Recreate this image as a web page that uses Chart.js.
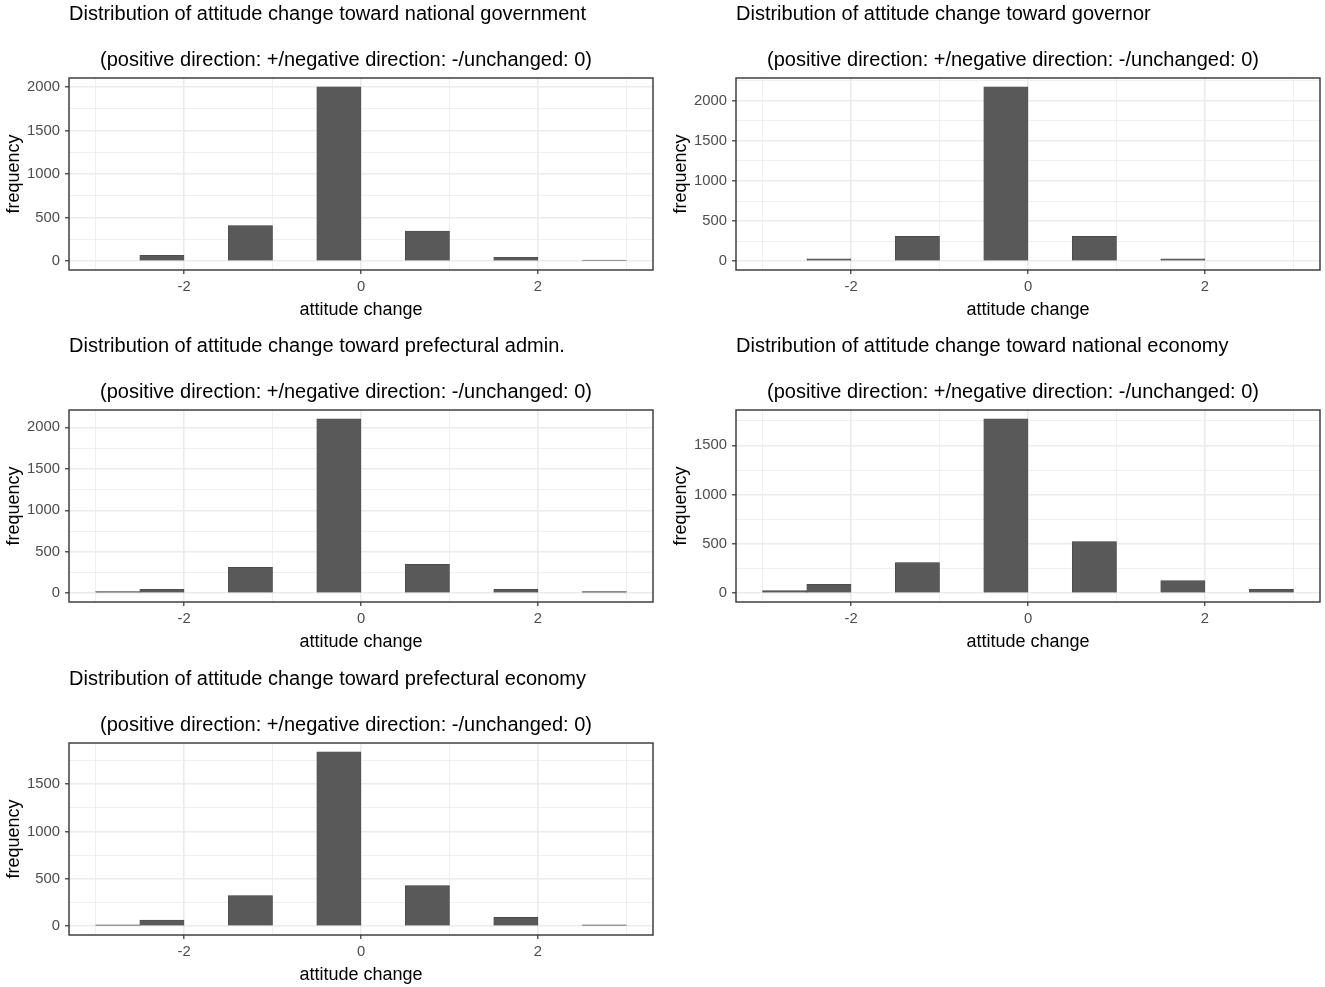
<!DOCTYPE html>
<html>
<head>
<meta charset="utf-8">
<title>Distribution of attitude change</title>
<script src="https://cdn.jsdelivr.net/npm/chart.js@4.4.1/dist/chart.umd.min.js"></script>
<style>
  html, body { margin: 0; padding: 0; background: #fff; width: 1325px; height: 987px; overflow: hidden; }
  canvas.panel { position: absolute; }
</style>
</head>
<body>
<canvas id="nationalGovChart" class="panel" width="658" height="320" style="left:0px;top:0px"></canvas>
<canvas id="governorChart" class="panel" width="658" height="320" style="left:667px;top:0px"></canvas>
<canvas id="prefAdminChart" class="panel" width="658" height="320" style="left:0px;top:332px"></canvas>
<canvas id="nationalEconChart" class="panel" width="658" height="320" style="left:667px;top:332px"></canvas>
<canvas id="prefEconChart" class="panel" width="658" height="320" style="left:0px;top:665px"></canvas>

<script>
// DATA //

// histogram bins (width 0.5), one per attitude value -3 .. 3
const binMids = [-2.75, -2.25, -1.25, -0.25, 0.75, 1.75, 2.75];

const nationalGov = [0, 69, 411, 2005, 347, 46, 15];
const governor = [0, 29, 309, 2172, 309, 29, 0];
const prefAdmin = [20, 48, 312, 2104, 348, 48, 20];
const nationalEcon = [27, 91, 312, 1770, 524, 128, 40];
const prefEcon = [14, 66, 325, 1843, 430, 94, 14];

const xGridValues = [-3, -2, -1, 0, 1, 2, 3];
const xTickLabels = [-2, 0, 2];
const yGridValues = [0, 250, 500, 750, 1000, 1250, 1500, 1750, 2000, 2250];
const yTickLabels = [0, 500, 1000, 1500, 2000];

const subtitle = '(positive direction: +/negative direction: -/unchanged: 0)';

// STYLE //

const fontFamily = '"Liberation Sans", Arial, Helvetica, sans-serif';
Chart.defaults.font.family = fontFamily;
Chart.defaults.animation = false;

const barFill = '#595959';
const gridColor = '#ebebeb';
const frameColor = '#333333';
const tickTextColor = '#4d4d4d';

// title + panel border drawn by hand so they line up with the plot area
function panelDecor(title) {
    return {
        id: 'panelDecor',
        afterDatasetsDraw(chart) {
            const { ctx, chartArea } = chart;
            ctx.save();
            ctx.strokeStyle = frameColor;
            ctx.lineWidth = 1.4;
            ctx.strokeRect(chartArea.left, chartArea.top,
                chartArea.right - chartArea.left, chartArea.bottom - chartArea.top);
            ctx.restore();
        },
        afterDraw(chart) {
            const { ctx, chartArea } = chart;
            ctx.save();
            ctx.fillStyle = '#000';
            ctx.font = '20px ' + fontFamily;
            ctx.textAlign = 'left';
            ctx.textBaseline = 'alphabetic';
            ctx.fillText(title, chartArea.left, chartArea.top - 58.5);
            ctx.fillText(subtitle, chartArea.left + 31, chartArea.top - 12.5);
            ctx.restore();
        }
    };
}

// empty bins stay in the data (they set the bar width) but draw nothing
const isEmpty = (c) => !c.raw || c.raw.y <= 0;

function makePanel(canvasId, title, counts) {
    const top = Math.max(...counts);

    const data = {
        datasets: [{
            data: binMids.map((x, i) => ({ x: x, y: counts[i] })),
            backgroundColor: (c) => (isEmpty(c) ? 'rgba(0,0,0,0)' : barFill),
            borderColor: '#454545',
            borderWidth: (c) => (isEmpty(c) ? 0 : 0.6),
            inflateAmount: (c) => (isEmpty(c) ? 0 : 'auto'),
            barPercentage: 1,
            categoryPercentage: 1
        }]
    };

    const options = {
        responsive: false,
        devicePixelRatio: 1,
        layout: { padding: { left: 0, top: 78, right: 5, bottom: 0 } },
        plugins: {
            legend: { display: false },
            tooltip: { enabled: false },
            title: { display: false }
        },
        scales: {
            x: {
                type: 'linear',
                min: -3.3,
                max: 3.3,
                offset: false,
                afterBuildTicks: (scale) => {
                    scale.ticks = xGridValues.map(v => ({ value: v }));
                },
                afterFit: (scale) => { scale.height = 50; },
                grid: {
                    offset: false,
                    color: gridColor,
                    lineWidth: (c) => (xTickLabels.includes(c.tick.value) ? 1.6 : 0.8),
                    tickColor: (c) => (xTickLabels.includes(c.tick.value) ? frameColor : 'rgba(0,0,0,0)'),
                    tickLength: 4,
                    tickWidth: 1.2
                },
                border: { display: false },
                ticks: {
                    autoSkip: false,
                    maxRotation: 0,
                    padding: 5.6,
                    color: tickTextColor,
                    font: { size: 14.8, lineHeight: 1 },
                    callback: (v) => (xTickLabels.includes(v) ? String(v) : '')
                },
                title: {
                    display: true,
                    text: 'attitude change',
                    color: '#000',
                    font: { size: 18, lineHeight: 1 },
                    padding: { top: 0, bottom: 1 }
                }
            },
            y: {
                type: 'linear',
                beginAtZero: false,
                min: -0.05 * top,
                max: 1.05 * top,
                afterBuildTicks: (scale) => {
                    scale.ticks = yGridValues
                        .filter(v => v >= scale.min && v <= scale.max)
                        .map(v => ({ value: v }));
                },
                afterFit: (scale) => { scale.width = 69; },
                grid: {
                    color: gridColor,
                    lineWidth: (c) => (yTickLabels.includes(c.tick.value) ? 1.6 : 0.8),
                    tickColor: (c) => (yTickLabels.includes(c.tick.value) ? frameColor : 'rgba(0,0,0,0)'),
                    tickLength: 4,
                    tickWidth: 1.2
                },
                border: { display: false },
                ticks: {
                    autoSkip: false,
                    padding: 5,
                    color: tickTextColor,
                    font: { size: 14.8 },
                    callback: (v) => (yTickLabels.includes(v) ? String(v) : '')
                },
                title: {
                    display: true,
                    text: 'frequency',
                    color: '#000',
                    font: { size: 18, lineHeight: 1.2 },
                    padding: { top: 3, bottom: 0 }
                }
            }
        }
    };

    return new Chart(document.getElementById(canvasId), {
        type: 'bar',
        data: data,
        options: options,
        plugins: [panelDecor(title)]
    });
}

// PANELS //

const nationalGovChart = makePanel('nationalGovChart',
    'Distribution of attitude change toward national government', nationalGov);
const governorChart = makePanel('governorChart',
    'Distribution of attitude change toward governor', governor);
const prefAdminChart = makePanel('prefAdminChart',
    'Distribution of attitude change toward prefectural admin.', prefAdmin);
const nationalEconChart = makePanel('nationalEconChart',
    'Distribution of attitude change toward national economy', nationalEcon);
const prefEconChart = makePanel('prefEconChart',
    'Distribution of attitude change toward prefectural economy', prefEcon);
</script>
</body>
</html>
